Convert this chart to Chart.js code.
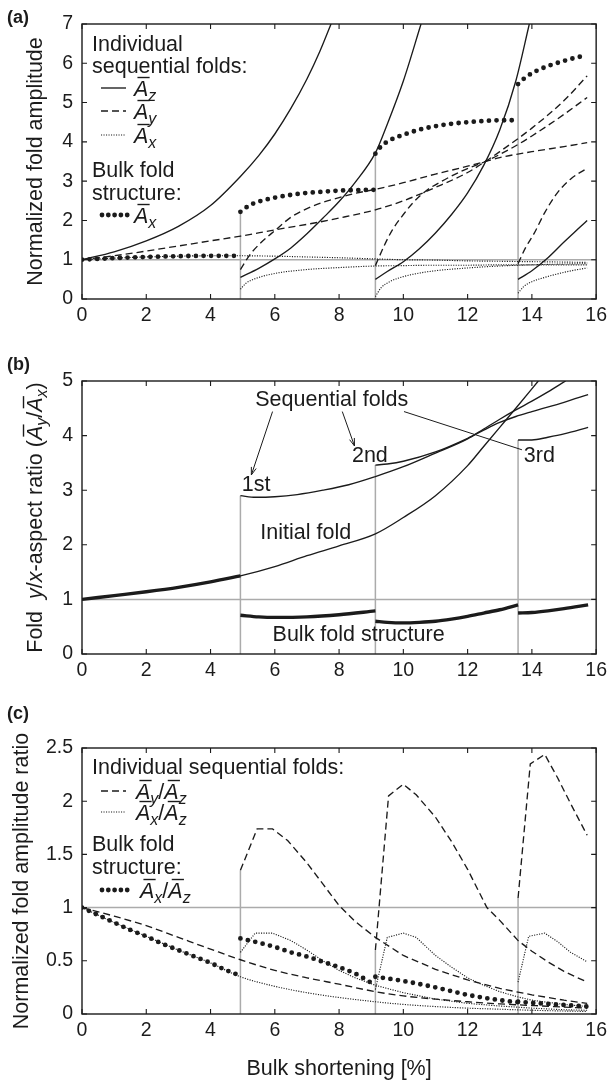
<!DOCTYPE html>
<html>
<head>
<meta charset="utf-8">
<script src="https://cdn.jsdelivr.net/npm/chart.js@4.4.1/dist/chart.umd.min.js"></script>
<style>
  html, body { margin: 0; padding: 0; background: #fff; }
  #page { position: relative; width: 612px; height: 1083px; }
  canvas { position: absolute; left: 0; }
</style>
</head>
<body>
<div id="page">
  <canvas id="panel-a" width="612" height="332" style="top:0"></canvas>
  <canvas id="panel-b" width="612" height="352" style="top:332px"></canvas>
  <canvas id="panel-c" width="612" height="399" style="top:684px"></canvas>
</div>
<script>
// shortening [%] at which each new sequential fold appears
const foldStarts = [4.93, 9.13, 13.57];

// (a) normalized amplitudes, [shortening, amplitude]
const azInitial = [[0,1],[1,1.2],[2,1.48],[3,1.85],[4,2.38],[4.93,3.12],[5.5,3.65],[6,4.2],[6.5,4.85],[7,5.6],[7.4,6.3],[7.75,7]];
const az1st = [[4.93,0.55],[5.5,0.78],[6,1.02],[6.5,1.3],[7,1.66],[7.5,2.06],[8,2.48],[8.5,2.97],[9.13,3.72],[9.5,4.45],[10,5.55],[10.55,7]];
const az2nd = [[9.13,0.5],[9.5,0.7],[10,0.95],[10.5,1.28],[11,1.68],[11.5,2.15],[12,2.7],[12.5,3.4],[13,4.3],[13.5,5.55],[13.92,7]];
const az3rd = [[13.57,0.5],[14,0.72],[14.5,1.05],[15,1.45],[15.5,1.83],[15.72,2.0]];

const ayInitial = [[0,1],[1,1.1],[2,1.22],[3,1.35],[4,1.48],[4.93,1.6],[6,1.76],[7,1.9],[8,2.06],[9.13,2.27],[10,2.5],[11,2.84],[12,3.22],[12.55,3.5],[13,3.75],[14,4.35],[15,5.05],[15.72,5.68]];
const ay1st = [[4.93,0.75],[5.2,1.1],[5.5,1.38],[6,1.74],[6.5,2.08],[7,2.3],[7.5,2.46],[8,2.58],[8.5,2.69],[9.13,2.79],[10,2.96],[11,3.18],[12,3.38],[12.55,3.5],[13,3.6],[14,3.75],[15,3.88],[15.72,3.98]];
const ay2nd = [[9.13,0.85],[9.4,1.35],[9.66,1.76],[10,2.15],[10.3,2.45],[10.7,2.75],[11.2,3.0],[11.8,3.25],[12.55,3.5],[13,3.68],[13.5,3.9],[14,4.15],[14.5,4.42],[15,4.7],[15.72,5.13]];
const ay3rd = [[13.57,0.9],[13.8,1.3],[14.07,1.67],[14.4,2.2],[14.78,2.69],[15.2,3.05],[15.72,3.33]];

const axInitial = [[0,1],[1,1.04],[2,1.07],[3,1.09],[4,1.1],[4.93,1.1],[6,1.09],[7,1.07],[8,1.05],[9.13,1.02],[10,1.0],[11,0.99],[12,0.97],[13,0.96],[14,0.95],[15,0.94],[15.72,0.93]];
const ax1st = [[4.93,0.25],[5.1,0.4],[5.4,0.52],[6,0.65],[7,0.75],[8,0.8],[9.13,0.84],[10,0.85],[11,0.86],[12,0.86],[13,0.87],[14,0.87],[15,0.87],[15.72,0.87]];
const ax2nd = [[9.13,0.06],[9.3,0.28],[9.6,0.45],[10,0.57],[10.5,0.66],[11,0.72],[12,0.79],[13,0.84],[14,0.87],[15,0.89],[15.72,0.9]];
const ax3rd = [[13.57,0.15],[13.75,0.32],[14,0.44],[14.4,0.55],[14.9,0.66],[15.3,0.73],[15.72,0.79]];

const bulkAx = [
  [[0,1],[1,1.04],[2,1.07],[3,1.09],[4,1.1],[4.93,1.1]],
  [[4.93,2.22],[5.2,2.38],[5.5,2.48],[6,2.58],[6.5,2.65],[7,2.7],[7.5,2.73],[8,2.76],[8.5,2.77],[9.13,2.78]],
  [[9.13,3.7],[9.3,3.88],[9.6,4.05],[10,4.18],[10.5,4.31],[11,4.4],[11.5,4.46],[12,4.5],[12.5,4.53],[13,4.55],[13.57,4.55]],
  [[13.57,5.47],[13.8,5.64],[14.1,5.79],[14.5,5.93],[15,6.06],[15.4,6.15],[15.72,6.2]],
];

// (b) y/x aspect ratio
const ratioInitial = [[0,1],[1,1.07],[2,1.14],[3,1.22],[4,1.32],[4.93,1.43],[6,1.6],[7,1.8],[8,1.98],[9.13,2.2],[10,2.5],[11,2.9],[12,3.45],[12.5,3.8],[13,4.15],[13.5,4.5],[14.2,5.0]];
const ratio1st = [[4.93,2.9],[5.4,2.87],[6,2.88],[6.7,2.92],[7.5,3.0],[8.3,3.1],[9.13,3.25],[10,3.43],[11,3.68],[12,3.94],[12.5,4.12],[13,4.3],[13.5,4.47],[14,4.63],[14.5,4.8],[15.05,5.0]];
const ratio2nd = [[9.13,3.46],[9.5,3.48],[10,3.53],[11,3.7],[12,3.95],[12.5,4.1],[13,4.24],[13.5,4.35],[14,4.44],[15,4.61],[15.75,4.75]];
const ratio3rd = [[13.57,3.92],[14,3.92],[14.5,3.97],[15,4.03],[15.75,4.15]];
const bulkRatio = [
  [[0,1],[1,1.07],[2,1.14],[3,1.22],[4,1.32],[4.93,1.43]],
  [[4.93,0.71],[5.5,0.68],[6,0.67],[7,0.68],[8,0.72],[9.13,0.79]],
  [[9.13,0.6],[9.5,0.58],[10,0.57],[10.5,0.58],[11,0.6],[11.5,0.64],[12,0.69],[12.5,0.75],[13,0.81],[13.57,0.9]],
  [[13.57,0.75],[14,0.76],[14.5,0.79],[15,0.83],[15.75,0.9]],
];

// (c) amplitude ratios
const ayAzInitial = [[0,1],[1,0.92],[2,0.83],[3,0.72],[4,0.61],[4.93,0.51],[6,0.41],[7,0.34],[8,0.28],[9.13,0.21],[10,0.17],[11,0.14],[12,0.115],[13,0.095],[14,0.08],[15,0.065],[15.72,0.055]];
const ayAz1st = [[4.93,1.35],[5.45,1.74],[5.93,1.74],[6.4,1.63],[7,1.42],[7.5,1.22],[8,1.02],[8.5,0.87],[9.13,0.72],[10,0.55],[11,0.42],[12,0.32],[13,0.24],[14,0.18],[15,0.13],[15.72,0.1]];
const ayAz2nd = [[9.13,0.6],[9.54,2.05],[10,2.16],[10.4,2.06],[11,1.85],[11.5,1.62],[12,1.36],[12.6,1.0],[13,0.88],[13.57,0.69],[14,0.59],[14.5,0.49],[15,0.4],[15.72,0.3]];
const ayAz3rd = [[13.57,1.09],[13.95,2.35],[14.4,2.44],[14.8,2.22],[15.2,1.98],[15.72,1.68]];

const axAzInitial = [[0,1],[1,0.86],[2,0.73],[3,0.6],[4,0.48],[4.93,0.35],[6,0.26],[7,0.2],[8,0.155],[9.13,0.115],[10,0.09],[11,0.07],[12,0.055],[13,0.045],[14,0.035],[15,0.028],[15.72,0.024]];
const axAz1st = [[4.93,0.58],[5.39,0.76],[5.93,0.76],[6.5,0.69],[7,0.6],[7.5,0.5],[8,0.41],[8.5,0.34],[9.13,0.27],[10,0.2],[11,0.14],[12,0.1],[13,0.075],[14,0.055],[15,0.04],[15.72,0.035]];
const axAz2nd = [[9.13,0.23],[9.5,0.72],[10,0.76],[10.4,0.72],[11,0.55],[11.5,0.44],[12,0.34],[12.5,0.27],[13,0.21],[13.57,0.16],[14,0.13],[15,0.09],[15.72,0.07]];
const axAz3rd = [[13.57,0.3],[13.9,0.73],[14.4,0.76],[14.8,0.68],[15.2,0.58],[15.72,0.49]];

const bulkAxAz = [
  [[0,1],[0.5,0.93],[1,0.86],[1.5,0.79],[2,0.73],[2.5,0.66],[3,0.6],[3.5,0.54],[4,0.48],[4.5,0.41],[4.93,0.36]],
  [[4.93,0.71],[5.5,0.67],[6,0.63],[6.5,0.58],[7,0.54],[7.5,0.49],[8,0.44],[8.5,0.38],[9.13,0.27]],
  [[9.13,0.35],[10,0.31],[11,0.25],[12,0.18],[13,0.13],[13.57,0.11]],
  [[13.57,0.115],[14,0.105],[15,0.085],[15.72,0.07]],
];

const xTicks = { min: 0, max: 16, step: 2 };

const FONT = '"Liberation Sans", Arial, Helvetica, sans-serif';
const INK = '#1b1b1b';
const GREY = '#ababab';
const TEXT = 21.5;
const DASH = [7, 4];
const DOT = [1.1, 1.4];

const pts = (arr) => arr.map(([x, y]) => ({ x, y }));

const solid = (arr, smooth = true) => ({
  data: pts(arr), borderColor: INK, borderWidth: 1.35, pointRadius: 0, fill: false,
  cubicInterpolationMode: smooth ? 'monotone' : 'default', tension: 0,
});
const dashed = (arr, smooth) => ({ ...solid(arr, smooth), borderDash: DASH });
const dotted = (arr, smooth) => ({ ...solid(arr, smooth), borderWidth: 1.15, borderDash: DOT });
const beads = (arr) => ({ ...solid(arr), borderWidth: 4.8, borderDash: [0, 7.6], borderCapStyle: 'round' });
const thick = (arr) => ({ ...solid(arr), borderWidth: 3.4 });
const guide = (arr) => ({ data: pts(arr), borderColor: GREY, borderWidth: 1.5, pointRadius: 0, order: 5 });

// grey marks: the y = 1 reference and a drop line at each new fold
const guides = (tops) => [
  guide([[0, 1], [16, 1]]),
  ...foldStarts.map((s, k) => guide([[s, 0], [s, tops[k]]])),
];

function rich(ctx, segs, x, y, size, align = 'left') {
  const font = (s) => `${s.i ? 'italic ' : ''}${s.sub ? Math.round(size * 0.74) : size}px ${FONT}`;
  let total = 0;
  const widths = segs.map((s) => {
    ctx.font = font(s);
    const w = ctx.measureText(s.t).width;
    total += w;
    return w;
  });
  let cx = align === 'center' ? x - total / 2 : x;
  ctx.textAlign = 'left';
  ctx.textBaseline = 'alphabetic';
  segs.forEach((s, k) => {
    ctx.font = font(s);
    ctx.fillText(s.t, cx, s.sub ? y + size * 0.22 : y);
    if (s.bar) {
      const top = y - size * 0.86;
      ctx.beginPath();
      ctx.lineWidth = Math.max(1, size * 0.065);
      ctx.moveTo(cx + size * 0.16, top);
      ctx.lineTo(cx + widths[k] + size * 0.06, top);
      ctx.stroke();
    }
    cx += widths[k];
  });
}

const amp = (sub) => [{ t: 'A', i: true, bar: true }, { t: sub, i: true, sub: true }];

function sample(ctx, kind, x0, x1, y) {
  ctx.save();
  ctx.strokeStyle = INK;
  ctx.fillStyle = INK;
  if (kind === 'beads') {
    for (let k = 0; k < 5; k++) {
      ctx.beginPath();
      ctx.arc(x0 + 2 + k * 6.3, y, 2.4, 0, Math.PI * 2);
      ctx.fill();
    }
  } else {
    ctx.lineWidth = kind === 'dotted' ? 1.15 : 1.35;
    ctx.setLineDash(kind === 'dashed' ? DASH : kind === 'dotted' ? DOT : []);
    ctx.beginPath();
    ctx.moveTo(x0, y);
    ctx.lineTo(x1, y);
    ctx.stroke();
  }
  ctx.restore();
}

function panelTag(ctx, tag, y) {
  ctx.font = `bold 18px ${FONT}`;
  ctx.textAlign = 'left';
  ctx.textBaseline = 'alphabetic';
  ctx.fillText(tag, 7, y);
}

function yTitle(ctx, chart, segs, baseX) {
  const a = chart.chartArea;
  ctx.save();
  ctx.translate(baseX, (a.top + a.bottom) / 2);
  ctx.rotate(-Math.PI / 2);
  rich(ctx, segs, 0, 0, TEXT, 'center');
  ctx.restore();
}

function arrow(ctx, x0, y0, x1, y1, head) {
  ctx.beginPath();
  ctx.moveTo(x0, y0);
  ctx.lineTo(x1, y1);
  ctx.stroke();
  if (!head) return;
  const a = Math.atan2(y1 - y0, x1 - x0);
  ctx.beginPath();
  ctx.moveTo(x1 - 8 * Math.cos(a - 0.32), y1 - 8 * Math.sin(a - 0.32));
  ctx.lineTo(x1, y1);
  ctx.lineTo(x1 - 8 * Math.cos(a + 0.32), y1 - 8 * Math.sin(a + 0.32));
  ctx.stroke();
}

// box with inward ticks on all four sides
const frame = {
  id: 'frame',
  afterDatasetsDraw(chart) {
    const { ctx, chartArea: a, scales: { x, y } } = chart;
    ctx.save();
    ctx.strokeStyle = INK;
    ctx.lineWidth = 1.1;
    ctx.beginPath();
    x.ticks.forEach((t) => {
      const px = x.getPixelForValue(t.value);
      ctx.moveTo(px, a.bottom); ctx.lineTo(px, a.bottom - 5);
      ctx.moveTo(px, a.top); ctx.lineTo(px, a.top + 5);
    });
    y.ticks.forEach((t) => {
      const py = y.getPixelForValue(t.value);
      ctx.moveTo(a.left, py); ctx.lineTo(a.left + 5, py);
      ctx.moveTo(a.right, py); ctx.lineTo(a.right - 5, py);
    });
    ctx.stroke();
    ctx.lineWidth = 1.4;
    ctx.strokeRect(a.left, a.top, a.right - a.left, a.bottom - a.top);
    ctx.restore();
  },
};

function makePanel(id, { datasets, yMax, yStep, top, axisHeight, notes }) {
  const tickFont = { family: FONT, size: 19.5 };
  return new Chart(document.getElementById(id), {
    type: 'line',
    data: { datasets },
    options: {
      responsive: false,
      animation: false,
      layout: { padding: { top, right: 9, left: 0, bottom: 0 } },
      plugins: { legend: { display: false }, tooltip: { enabled: false } },
      scales: {
        x: {
          type: 'linear', min: xTicks.min, max: xTicks.max,
          ticks: { stepSize: xTicks.step, autoSkip: false, maxRotation: 0, padding: 5, color: INK, font: tickFont },
          grid: { display: false, drawTicks: false },
          border: { display: false },
          afterFit: (s) => { s.height = axisHeight; },
        },
        y: {
          type: 'linear', min: 0, max: yMax,
          ticks: { stepSize: yStep, padding: 9, color: INK, font: tickFont, callback: (v) => String(+v.toFixed(2)) },
          grid: { display: false, drawTicks: false },
          border: { display: false },
          afterFit: (s) => { s.width = 82; },
        },
      },
    },
    plugins: [frame, { id: 'notes', afterDraw: (c) => { c.ctx.save(); c.ctx.fillStyle = INK; c.ctx.strokeStyle = INK; notes(c.ctx, c); c.ctx.restore(); } }],
  });
}

// (a) amplitudes
makePanel('panel-a', {
  yMax: 7, yStep: 1, top: 24, axisHeight: 33,
  datasets: [
    ...bulkAx.map(beads),
    solid(azInitial), solid(az1st), solid(az2nd), solid(az3rd),
    dashed(ayInitial), dashed(ay1st), dashed(ay2nd), dashed(ay3rd),
    dotted(axInitial), dotted(ax1st), dotted(ax2nd), dotted(ax3rd),
    ...guides(bulkAx.slice(1).map((seg) => seg[0][1])),
  ],
  notes(ctx, chart) {
    panelTag(ctx, '(a)', 23);
    yTitle(ctx, chart, [{ t: 'Normalized fold amplitude' }], 42);
    rich(ctx, [{ t: 'Individual' }], 92, 51, TEXT);
    rich(ctx, [{ t: 'sequential folds:' }], 92, 73, TEXT);
    sample(ctx, 'solid', 101, 126, 88);
    rich(ctx, amp('z'), 134, 96, TEXT);
    sample(ctx, 'dashed', 101, 126, 111);
    rich(ctx, amp('y'), 134, 119, TEXT);
    sample(ctx, 'dotted', 101, 126, 135);
    rich(ctx, amp('x'), 134, 143, TEXT);
    rich(ctx, [{ t: 'Bulk fold' }], 92, 177, TEXT);
    rich(ctx, [{ t: 'structure:' }], 92, 200, TEXT);
    sample(ctx, 'beads', 100, 126, 215);
    rich(ctx, amp('x'), 134, 223, TEXT);
  },
});

// (b) aspect ratios
makePanel('panel-b', {
  yMax: 5, yStep: 1, top: 49, axisHeight: 30,
  datasets: [
    ...bulkRatio.map(thick),
    solid(ratioInitial), solid(ratio1st), solid(ratio2nd), solid(ratio3rd),
    ...guides([ratio1st[0][1], ratio2nd[0][1], ratio3rd[0][1]]),
  ],
  notes(ctx, chart) {
    const { x, y } = chart.scales;
    const px = (v) => x.getPixelForValue(v);
    const py = (v) => y.getPixelForValue(v);
    panelTag(ctx, '(b)', 38);
    yTitle(ctx, chart, [
      { t: 'Fold  ' }, { t: 'y', i: true }, { t: '/' }, { t: 'x', i: true }, { t: '-aspect ratio (' },
      ...amp('y'), { t: '/' }, ...amp('x'), { t: ')' },
    ], 42);
    ctx.font = `${TEXT}px ${FONT}`;
    ctx.textAlign = 'left';
    ctx.textBaseline = 'middle';
    ctx.fillText('Sequential folds', px(5.39), py(4.65));
    ctx.fillText('1st', px(4.97), py(3.1));
    ctx.fillText('2nd', px(8.4), py(3.63));
    ctx.fillText('3rd', px(13.75), py(3.63));
    ctx.fillText('Initial fold', px(5.55), py(2.21));
    ctx.fillText('Bulk fold structure', px(5.93), py(0.34));
    ctx.lineWidth = 1;
    arrow(ctx, px(5.93), py(4.44), px(5.27), py(3.28), true);
    arrow(ctx, px(8.1), py(4.44), px(8.48), py(3.81), true);
    arrow(ctx, px(10.02), py(4.44), px(13.69), py(3.74), false);
  },
});

// (c) amplitude ratios
makePanel('panel-c', {
  yMax: 2.5, yStep: 0.5, top: 64, axisHeight: 69,
  datasets: [
    ...bulkAxAz.map(beads),
    dashed(ayAzInitial), dashed(ayAz1st, false), dashed(ayAz2nd, false), dashed(ayAz3rd, false),
    dotted(axAzInitial), dotted(axAz1st, false), dotted(axAz2nd, false), dotted(axAz3rd, false),
    ...guides([ayAz1st[0][1], ayAz2nd[0][1], ayAz3rd[0][1]]),
  ],
  notes(ctx, chart) {
    const a = chart.chartArea;
    panelTag(ctx, '(c)', 35);
    yTitle(ctx, chart, [{ t: 'Normalized fold amplitude ratio' }], 28);
    rich(ctx, [{ t: 'Bulk shortening [%]' }], (a.left + a.right) / 2, 391, TEXT, 'center');
    rich(ctx, [{ t: 'Individual sequential folds:' }], 92, 90, TEXT);
    sample(ctx, 'dashed', 101, 126, 107);
    rich(ctx, [...amp('y'), { t: '/' }, ...amp('z')], 136, 115, TEXT);
    sample(ctx, 'dotted', 101, 126, 128);
    rich(ctx, [...amp('x'), { t: '/' }, ...amp('z')], 136, 136, TEXT);
    rich(ctx, [{ t: 'Bulk fold' }], 92, 167, TEXT);
    rich(ctx, [{ t: 'structure:' }], 92, 190, TEXT);
    sample(ctx, 'beads', 100, 126, 206);
    rich(ctx, [...amp('x'), { t: '/' }, ...amp('z')], 140, 214, TEXT);
  },
});
</script>
</body>
</html>
